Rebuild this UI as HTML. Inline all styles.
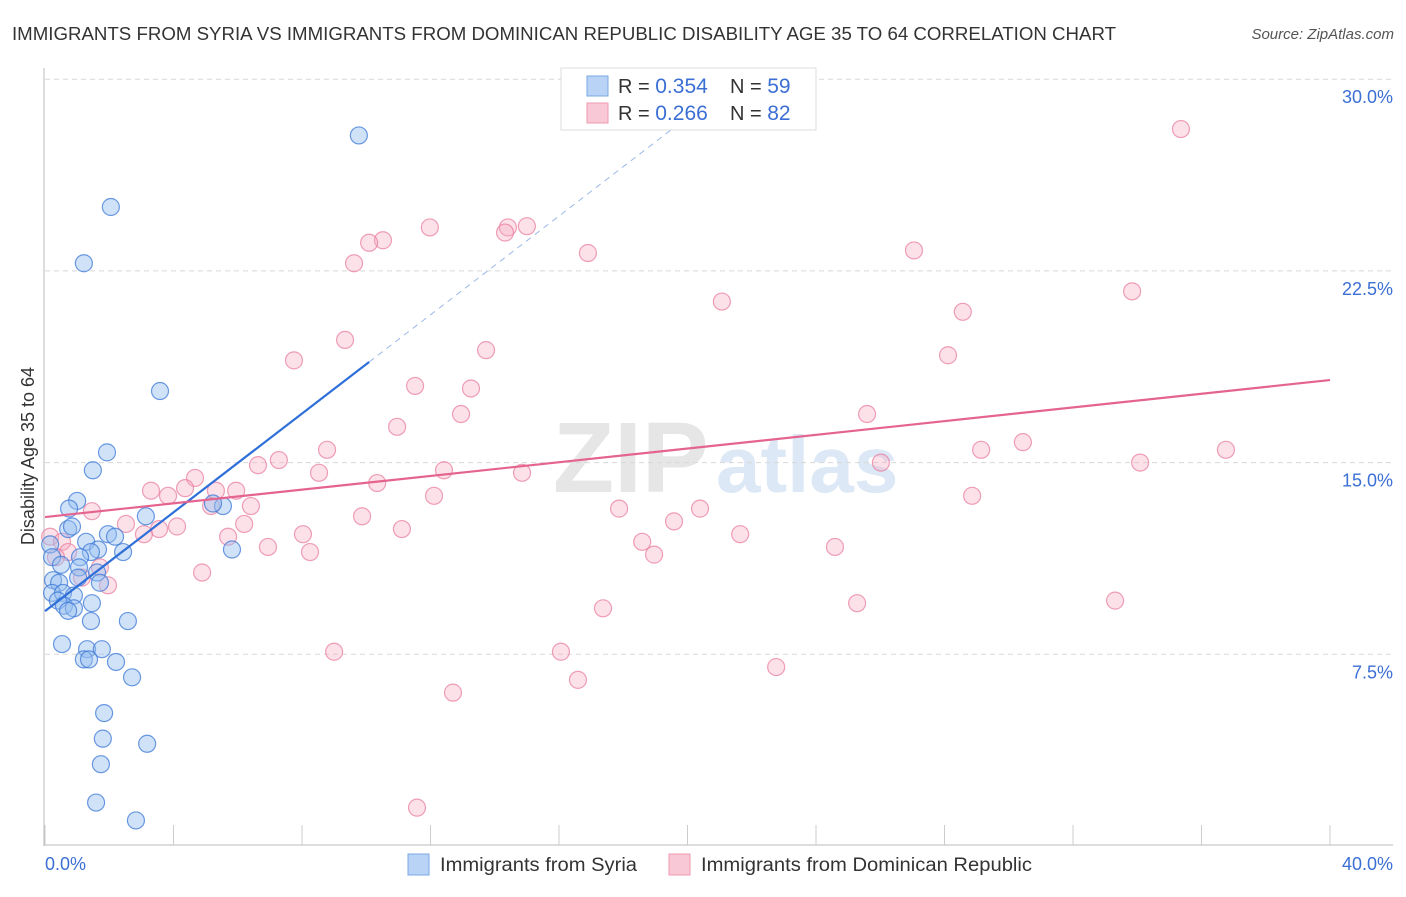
<!DOCTYPE html>
<html><head><meta charset="utf-8"><style>
body{margin:0;background:#fff;font-family:"Liberation Sans",sans-serif;}
svg text{font-family:"Liberation Sans",sans-serif;}
</style></head><body>
<svg id="chart" width="1406" height="892" xmlns="http://www.w3.org/2000/svg">
<text x="12" y="40" font-size="18" fill="#333" textLength="1104" lengthAdjust="spacingAndGlyphs">IMMIGRANTS FROM SYRIA VS IMMIGRANTS FROM DOMINICAN REPUBLIC DISABILITY AGE 35 TO 64 CORRELATION CHART</text>
<text x="1394" y="39" font-size="15" fill="#555" font-style="italic" text-anchor="end">Source: ZipAtlas.com</text>
<g><text x="553" y="492" font-size="100" fill="#e6e6e6" font-family="Liberation Serif" font-weight="bold">ZIP</text><text x="716" y="492" font-size="80" fill="#dce8f5" font-weight="bold">atlas</text></g>
<g id="grid"></g>
<g id="axes"></g>
<g id="pink"></g>
<g id="blue"></g>
<g id="lines"></g>
<text transform="translate(34,456) rotate(-90)" font-size="18" fill="#333" text-anchor="middle">Disability Age 35 to 64</text>
<text x="45" y="870" font-size="18" fill="#3b6fd4">0.0%</text>
<text x="1393" y="870" font-size="18" fill="#3b6fd4" text-anchor="end">40.0%</text>
<g>
<rect x="561" y="68" width="255" height="62" fill="#fff" stroke="#ddd"/>
<rect x="587" y="76" width="21" height="20" fill="#b8d3f5" stroke="#7aa7e3"/>
<rect x="587" y="103" width="21" height="20" fill="#f9c8d6" stroke="#ee9ab3"/>
<text x="618" y="93" font-size="20" fill="#333">R = <tspan fill="#3b6fd4" font-size="21">0.354</tspan><tspan x="730">N = </tspan><tspan fill="#3b6fd4" font-size="21">59</tspan></text>
<text x="618" y="120" font-size="20" fill="#333">R = <tspan fill="#3b6fd4" font-size="21"> 0.266</tspan><tspan x="730">N = </tspan><tspan fill="#3b6fd4" font-size="21">82</tspan></text>
</g>
<g>
<rect x="408" y="854" width="21" height="21" fill="#b8d3f5" stroke="#7aa7e3"/>
<text x="440" y="871" font-size="19" fill="#333" textLength="197" lengthAdjust="spacingAndGlyphs">Immigrants from Syria</text>
<rect x="669" y="854" width="21" height="21" fill="#f9c8d6" stroke="#ee9ab3"/>
<text x="701" y="871" font-size="19" fill="#333" textLength="331" lengthAdjust="spacingAndGlyphs">Immigrants from Dominican Republic</text>
</g>
</svg>
<script>
const yTicks=[7.5,15,22.5,30];
const yTickLabels=["7.5%","15.0%","22.5%","30.0%"];
const blueX=[9.77,2.05,1.21,3.58,1.93,1.49,1.0,0.75,3.14,5.54,5.23,0.72,0.84,1.96,2.18,0.16,1.28,1.65,1.43,1.09,0.22,2.43,5.82,0.5,1.06,1.62,0.25,0.44,1.03,1.71,0.22,0.56,0.9,0.4,0.59,1.46,0.9,0.72,1.43,2.58,0.53,1.31,1.77,1.21,1.37,2.21,2.71,1.84,1.8,3.18,1.74,1.59,2.83];
const blueY=[27.8,25.0,22.8,17.8,15.4,14.7,13.5,13.2,12.9,13.3,13.4,12.4,12.5,12.2,12.1,11.8,11.9,11.6,11.5,11.3,11.3,11.5,11.6,11.0,10.9,10.7,10.4,10.3,10.5,10.3,9.9,9.9,9.8,9.6,9.4,9.5,9.3,9.2,8.8,8.8,7.9,7.7,7.7,7.3,7.3,7.2,6.6,5.2,4.2,4.0,3.2,1.7,1.0];
const pinkX=[35.36,11.98,14.41,15.0,14.32,10.52,10.09,16.9,27.05,9.62,33.84,21.07,28.57,9.34,13.73,28.11,7.75,11.52,13.26,12.95,25.59,10.96,8.78,30.44,29.14,36.76,7.28,6.63,34.09,26.02,12.42,14.85,8.53,4.67,10.34,4.36,3.3,5.95,5.32,3.83,12.11,28.86,6.41,5.17,1.46,9.87,17.87,20.39,19.58,2.52,6.2,4.11,3.55,11.11,3.08,5.7,8.03,21.64,0.16,0.53,6.94,18.59,24.59,8.25,18.96,0.72,0.34,1.71,4.89,1.15,1.96,17.37,25.28,33.31,9.0,16.06,22.76,16.59,12.7,11.58];
const pinkY=[28.05,24.2,24.2,24.25,24.0,23.7,23.6,23.2,23.3,22.8,21.7,21.3,20.9,19.8,19.4,19.2,19.0,18.0,17.9,16.9,16.9,16.4,15.5,15.8,15.5,15.5,15.1,14.9,15.0,15.0,14.7,14.6,14.6,14.4,14.2,14.0,13.9,13.9,13.9,13.7,13.7,13.7,13.3,13.3,13.1,12.9,13.2,13.2,12.7,12.6,12.6,12.5,12.4,12.4,12.2,12.1,12.2,12.2,12.1,11.9,11.7,11.9,11.7,11.5,11.4,11.5,11.3,10.9,10.7,10.5,10.2,9.3,9.5,9.6,7.6,7.6,7.0,6.5,6.0,1.5];
const blueTrend=[9.19,0.966];
const pinkTrend=[12.87,0.134];

const NS="http://www.w3.org/2000/svg";
const X0=45,X1=1330,Y0=846,YPX=191.7/7.5;
function sx(v){return X0+(X1-X0)*v/40;}
function sy(v){return Y0-v*YPX;}
function mk(tag,attrs,parent){const e=document.createElementNS(NS,tag);for(const k in attrs)e.setAttribute(k,attrs[k]);parent.appendChild(e);return e;}
const grid=document.getElementById('grid'),axes=document.getElementById('axes');
yTicks.forEach((t,i)=>{
  const l=mk('line',{x1:45,x2:1393,y1:sy(t),y2:sy(t),stroke:'#d8d8d8','stroke-dasharray':'5,4'},grid);
  
  
  const tx=mk('text',{x:1393,y:sy(t)+24,'font-size':18,fill:'#3b6fd4','text-anchor':'end'},grid);
  tx.textContent=yTickLabels[i];
  
  
});
const ya=mk('line',{x1:44,x2:44,y1:68,y2:846,stroke:'#bbb'},axes);


const xa=mk('line',{x1:44,x2:1393,y1:845,y2:845,stroke:'#bbb'},axes);


for(let i=0;i<=10;i++){
  const t=mk('line',{x1:sx(i*4),x2:sx(i*4),y1:825,y2:845,stroke:'#ccc'},axes);
  
  
}
function dots(xs,ys,g,fill,stroke,name){
  xs.forEach((x,i)=>{
    const c=mk('circle',{cx:sx(x),cy:sy(ys[i]),r:8.5,fill:fill,stroke:stroke,'stroke-width':1.2},g);
    
    
  });
}
dots(pinkX,pinkY,document.getElementById('pink'),'rgba(246,168,192,0.35)','rgba(232,120,155,0.7)','dominican-point');
dots(blueX,blueY,document.getElementById('blue'),'rgba(150,190,240,0.45)','rgba(60,120,215,0.75)','syria-point');
const lg=document.getElementById('lines');
const bEnd=10.09,bDash=20.1;
const b1=mk('line',{x1:sx(0),y1:sy(blueTrend[0]),x2:sx(bEnd),y2:sy(blueTrend[0]+blueTrend[1]*bEnd),stroke:'#2f6fd8','stroke-width':2.2},lg);


const b2=mk('line',{x1:sx(bEnd),y1:sy(blueTrend[0]+blueTrend[1]*bEnd),x2:sx(bDash),y2:sy(blueTrend[0]+blueTrend[1]*bDash),stroke:'#9bb8e8','stroke-width':1,'stroke-dasharray':'6,5'},lg);


const p1=mk('line',{x1:sx(0),y1:sy(pinkTrend[0]),x2:sx(40),y2:sy(pinkTrend[0]+pinkTrend[1]*40),stroke:'#e4648f','stroke-width':2.2},lg);


</script>
</body></html>
